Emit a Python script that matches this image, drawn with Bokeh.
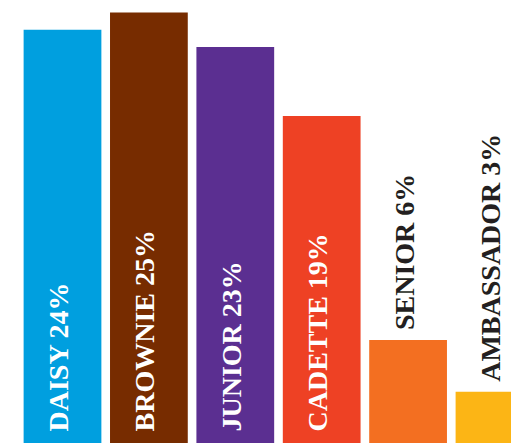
import math
from bokeh.plotting import figure
from bokeh.models import ColumnDataSource, Range1d
from bokeh.core.properties import value
from bokeh.embed import file_html
from bokeh.resources import INLINE

categories = ["DAISY", "BROWNIE", "JUNIOR", "CADETTE", "SENIOR", "AMBASSADOR"]
percents = [24, 25, 23, 19, 6, 3]
colors = ["#009FDF", "#772C00", "#5B2F91", "#EE4124", "#F36F21", "#FCB515"]

xs = list(range(len(categories)))
labels = [f"{c} {v}%" for c, v in zip(categories, percents)]
inside = [v >= 10 for v in percents]

p = figure(width=511, height=443, output_backend="svg", toolbar_location=None,
           x_range=Range1d(-0.7176, 5.197), y_range=Range1d(0, 25.70),
           min_border=0, outline_line_color=None)
p.axis.visible = False
p.grid.visible = False
p.background_fill_color = "white"
p.border_fill_color = "white"

src = ColumnDataSource(dict(x=xs, top=percents, color=colors))
p.vbar(x="x", top="top", bottom=0, width=0.9, fill_color="color", line_color=None, source=src)

in_src = ColumnDataSource(dict(
    x=[x for x, i in zip(xs, inside) if i],
    y=[0 for i in inside if i],
    text=[l for l, i in zip(labels, inside) if i]))
out_src = ColumnDataSource(dict(
    x=[x for x, i in zip(xs, inside) if not i],
    y=[v for v, i in zip(percents, inside) if not i],
    text=[l for l, i in zip(labels, inside) if not i]))

common = dict(angle=math.pi / 2, text_align="left", text_baseline="alphabetic",
              text_font=value("Liberation Serif"), text_font_style="bold",
              text_font_size="28px", x_offset=-4)
p.text(x="x", y="y", text="text", source=in_src, text_color="white", y_offset=-12, **common)
p.text(x="x", y="y", text="text", source=out_src, text_color="#231F20", y_offset=-10, **common)

open("out.html", "w").write(file_html(p, INLINE))
